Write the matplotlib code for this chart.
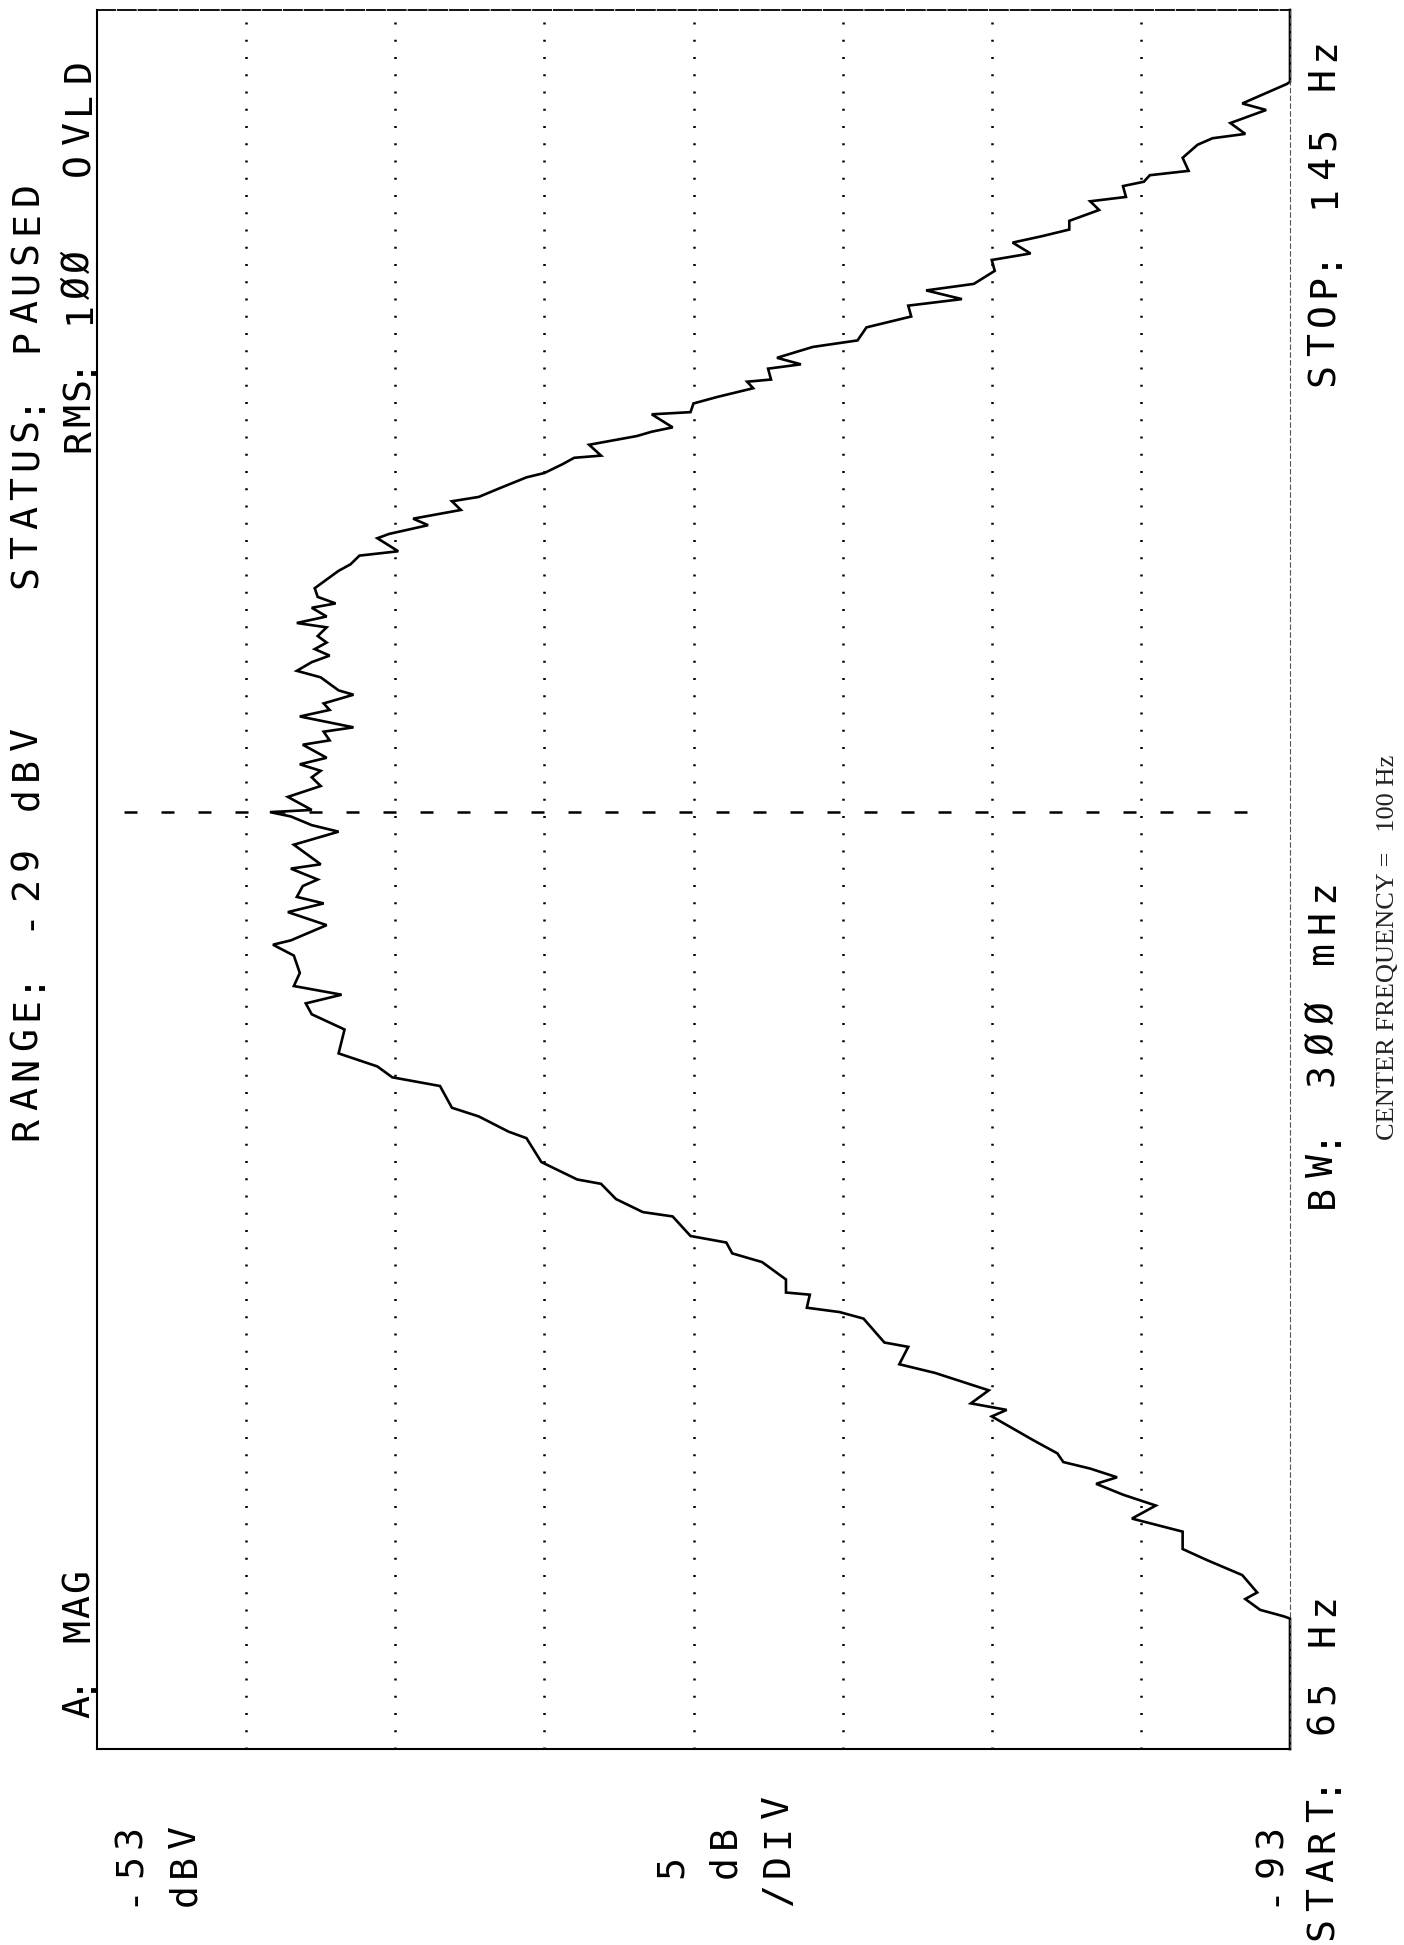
import matplotlib
matplotlib.use("Agg")
import matplotlib.pyplot as plt

W, H = 1404, 1945  # output size in pixels

START_HZ = 65
STOP_HZ = 145
TOP_DBV = -53
BOTTOM_DBV = -93
GRID_DBV = [-58, -63, -68, -73, -78, -83, -88]
MARKER_HZ = 108.1
MARKER_SPAN_DBV = [-53.9, -92.0]

# spectrum trace (frequency in Hz, level in dBV)
trace_hz = [
    65.0, 71.0, 71.1, 71.4, 71.9, 72.2, 73.0, 73.7, 74.2, 75.0,
    75.6, 76.2, 76.7, 77.2, 77.5, 77.9, 78.2, 78.6, 79.2, 80.3,
    80.6, 80.9, 81.5, 81.9, 82.3, 82.7, 83.5, 83.7, 84.8, 85.1,
    85.3, 85.9, 86.0, 86.6, 87.4, 87.8, 88.3, 88.6, 89.5, 89.7,
    90.3, 91.0, 91.2, 92.0, 93.1, 93.4, 94.1, 94.5, 95.5, 95.9,
    96.4, 97.0, 98.1, 98.8, 99.3, 99.7, 100.1, 100.7, 101.5, 102.0,
    102.2, 102.9, 103.5, 103.9, 104.2, 104.7, 105.0, 105.5, 105.7, 106.6,
    107.2, 107.5, 107.9, 108.1, 108.2, 108.8, 109.3, 109.7, 110.0, 110.3,
    110.6, 111.2, 111.4, 111.8, 112.0, 112.5, 112.8, 113.1, 113.5, 113.7,
    114.3, 114.6, 115.0, 115.3, 115.6, 115.9, 116.2, 116.6, 116.8, 117.1,
    117.5, 117.7, 118.0, 118.4, 118.9, 119.2, 119.5, 119.9, 120.1, 120.7,
    120.9, 121.3, 121.6, 122.0, 122.4, 122.6, 123.0, 123.5, 123.7, 124.1,
    124.4, 124.5, 125.0, 125.4, 125.6, 125.8, 126.4, 126.5, 126.9, 127.2,
    127.6, 127.9, 128.0, 128.5, 128.7, 129.0, 129.5, 129.8, 130.4, 130.9,
    131.4, 131.7, 132.1, 132.4, 133.0, 133.5, 133.8, 134.3, 134.6, 134.9,
    135.3, 135.8, 136.2, 136.4, 136.9, 137.1, 137.4, 137.6, 138.2, 138.8,
    139.1, 139.3, 139.8, 140.4, 140.7, 141.6, 141.7, 145.0,
]
trace_dbv = [
    -93.0, -93.0, -92.8, -92.0, -91.5, -91.9, -91.4, -90.2, -89.4, -89.4,
    -87.7, -88.5, -87.4, -86.5, -87.2, -86.3, -85.4, -85.2, -84.4, -83.0,
    -83.5, -82.3, -82.9, -82.0, -81.1, -79.9, -80.2, -79.4, -78.7, -77.9,
    -76.8, -76.9, -76.1, -76.1, -75.3, -74.3, -74.1, -72.9, -72.3, -71.3,
    -70.4, -69.9, -69.1, -67.9, -67.4, -66.8, -65.8, -64.9, -64.5, -62.9,
    -62.4, -61.1, -61.3, -60.2, -60.0, -61.2, -59.6, -59.8, -59.6, -58.9,
    -59.5, -60.7, -59.4, -60.6, -59.7, -59.9, -60.4, -59.5, -60.5, -59.6,
    -61.1, -60.2, -59.5, -58.8, -60.2, -59.4, -60.5, -60.2, -60.5, -59.8,
    -60.7, -59.9, -60.8, -60.6, -61.6, -59.8, -60.8, -60.6, -61.6, -61.1,
    -60.5, -59.7, -60.2, -60.8, -60.3, -60.7, -60.4, -60.7, -59.7, -60.7,
    -60.2, -61.0, -60.4, -60.3, -60.8, -61.1, -61.5, -61.8, -63.1, -62.4,
    -62.8, -64.1, -63.6, -65.2, -64.9, -65.8, -66.5, -67.4, -68.0, -68.6,
    -69.0, -69.9, -69.5, -71.1, -71.6, -72.3, -71.6, -72.9, -73.0, -73.8,
    -75.0, -74.8, -75.6, -75.5, -76.6, -75.8, -77.0, -78.5, -78.8, -80.3,
    -80.2, -82.0, -80.8, -82.4, -83.1, -83.0, -84.3, -83.7, -84.7, -85.6,
    -85.6, -86.6, -86.3, -87.5, -87.4, -88.1, -88.3, -89.6, -89.4, -89.9,
    -90.4, -91.5, -91.0, -92.2, -91.4, -92.9, -93.0, -93.0,
]

PLOTTER_FONT = "DejaVu Sans Mono"
PLOTTER_SIZE = 27.5


def fx(x):
    return x / W


def fy(y):
    return 1 - y / H


def plotter_text(fig, s, x_base, y_first, pitch):
    # the analyzer prints on a fixed character grid, drawn sideways
    for i, ch in enumerate(s):
        if ch == " ":
            continue
        fig.text(fx(x_base), fy(y_first - i * pitch), ch, rotation=90,
                 rotation_mode="anchor", ha="center", va="baseline",
                 family=PLOTTER_FONT, fontsize=PLOTTER_SIZE, color="black")


fig = plt.figure(figsize=(W / 100, H / 100), dpi=100)
fig.patch.set_facecolor("white")

left, right, top, bottom = 97, 1290, 10, 1749
ax = fig.add_axes([fx(left), fy(bottom), (right - left) / W, (bottom - top) / H])
ax.set_xlim(TOP_DBV, BOTTOM_DBV)
ax.set_ylim(START_HZ, STOP_HZ)

ax.set_xticks(GRID_DBV)
ax.set_yticks([])
ax.tick_params(length=0, labelbottom=False, labelleft=False)
ax.xaxis.grid(True, color="black", linewidth=1.8, linestyle=(0, (0.8, 6.1)),
              dash_capstyle="butt")

ax.spines["left"].set_linewidth(1.5)
ax.spines["bottom"].set_linewidth(1.5)
ax.spines["top"].set_linewidth(1.3)
ax.spines["top"].set_linestyle((0, (10, 1.5)))
ax.spines["right"].set_linewidth(0.8)
ax.spines["right"].set_color("#555555")
ax.spines["right"].set_linestyle((0, (4, 3)))

ax.plot(trace_dbv, trace_hz, color="black", linewidth=1.9, clip_on=False,
        solid_joinstyle="miter")
ax.plot(MARKER_SPAN_DBV, [MARKER_HZ, MARKER_HZ], color="black", linewidth=1.8,
        linestyle=(0, (5.2, 9.6)), clip_on=False)

# header lines (left side of the sheet)
plotter_text(fig, "STATUS: PAUSED", 37, 577, 29.5)
plotter_text(fig, "RANGE: -29 dBV", 37, 1129, 30.0)
plotter_text(fig, "OVLD", 89, 164, 31.0)
plotter_text(fig, "RMS: 1ØØ", 89, 440, 25.5)
plotter_text(fig, "A: MAG", 89, 1706, 25.0)

# scale block
plotter_text(fig, "-53", 141, 1895, 29.5)
plotter_text(fig, "dBV", 195, 1895, 29.5)
plotter_text(fig, "5", 682, 1866, 29.5)
plotter_text(fig, "dB", 735, 1866, 29.5)
plotter_text(fig, "/DIV", 788, 1895, 29.5)
plotter_text(fig, "-93", 1282, 1895, 29.5)

# footer lines (right side of the sheet)
plotter_text(fig, "START: 65 Hz", 1333, 1929, 29.5)
plotter_text(fig, "STOP: 145 Hz", 1334, 374, 29.5)
plotter_text(fig, "BW: 3ØØ mHz", 1333, 1196, 30.5)

fig.text(fx(1394), fy(1140), "CENTER FREQUENCY =   100 Hz", rotation=90,
         rotation_mode="anchor", ha="left", va="baseline",
         family="Liberation Serif", fontsize=19, color="#222222")

fig.savefig("out.png", dpi=100, facecolor="white")
